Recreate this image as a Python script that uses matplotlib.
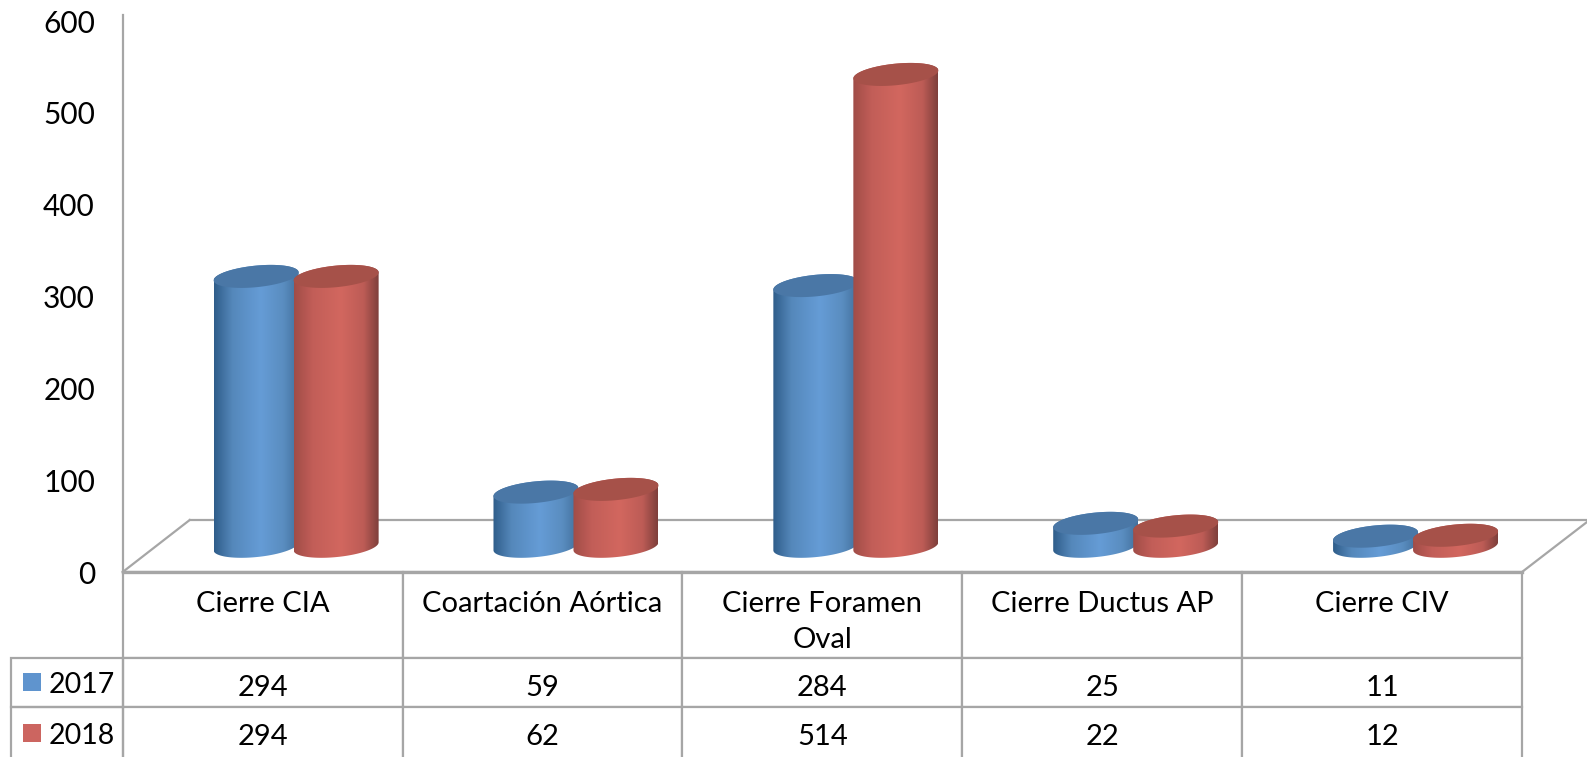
import numpy as np
import matplotlib
matplotlib.use("Agg")
import matplotlib.pyplot as plt
from matplotlib.colors import LinearSegmentedColormap
from matplotlib.patches import Polygon, Rectangle
from matplotlib.transforms import Affine2D

categorias = ["Cierre CIA", "Coartación Aórtica", "Cierre Foramen\nOval", "Cierre Ductus AP", "Cierre CIV"]
serie_2017 = [294, 59, 284, 25, 11]
serie_2018 = [294, 62, 514, 22, 12]
yticks = [0, 100, 200, 300, 400, 500, 600]

W, H = 1587, 757
GRIS = "#a6a6a6"
FS = 21
plt.rcParams["font.family"] = ["Lato", "DejaVu Sans"]

# estilo de cada serie: borde izq, medio izq, centro, medio der, borde der, tapa
BLUE = ("#2f5d8a", "#5588bb", "#659cd6", "#5a8dc0", "#42709c", "#4a77a6")
RED = ("#a04c47", "#c25e58", "#d2675f", "#bd5c56", "#7e3f3b", "#a65149")

fig = plt.figure(figsize=(W / 100, H / 100), dpi=100)
x0, x1, y_0, y_top = 122.7, 1522.0, 572.0, 15.0
ax = fig.add_axes([x0 / W, 1 - y_0 / H, (x1 - x0) / W, (y_0 - y_top) / H])
PX_X = (x1 - x0) / 5
PX_Y = 0.918


def ellipse(cx, cy, t):
    # elipse inclinada, sube hacia la derecha
    a = 42.5 / PX_X
    b = 10.8 / PX_Y
    k = 4.0 / PX_Y
    return cx + a * np.cos(t), cy + b * np.sin(t) + k * np.cos(t)


def cilindro(cx, valor, estilo, z):
    base = 28.0
    top = base + valor
    cmap = LinearSegmentedColormap.from_list(
        "c", [(0, estilo[0]), (0.22, estilo[1]), (0.55, estilo[2]), (0.82, estilo[3]), (1, estilo[4])])
    t_low = np.linspace(np.pi, 2 * np.pi, 60)
    t_up = np.linspace(0, np.pi, 60)
    xb, yb = ellipse(cx, base, t_low)
    xt, yt = ellipse(cx, top, t_up)
    pts = np.column_stack([np.r_[xb, xt], np.r_[yb, yt]])
    borde = Polygon(pts, closed=True, facecolor="none", edgecolor="none", zorder=z)
    ax.add_patch(borde)
    a = 42.5 / PX_X
    im = ax.imshow(np.linspace(0, 1, 256)[None, :], cmap=cmap, aspect="auto", zorder=z,
                   extent=(cx - a, cx + a, base - 20, top + 20), interpolation="bilinear")
    im.set_clip_path(borde)
    t = np.linspace(0, 2 * np.pi, 120)
    xc, yc = ellipse(cx, top, t)
    ax.add_patch(Polygon(np.column_stack([xc, yc]), closed=True, facecolor=estilo[5], edgecolor="none", zorder=z + 0.1))


for i in range(len(categorias)):
    cilindro(i - 6.5 / PX_X, serie_2017[i], BLUE, 3 + i)
    cilindro(i + 73.5 / PX_X, serie_2018[i], RED, 3.5 + i)

ax.set_xlim(-0.5, 4.5)
ax.set_ylim(0, (y_0 - y_top) / PX_Y)

# suelo 3D
dx = 67 / PX_X
dy = 52 / PX_Y
ax.plot([-0.5, -0.5 + dx], [0, dy], color=GRIS, lw=1.6, clip_on=False, zorder=1)
ax.plot([-0.5 + dx, 4.5 + 65 / PX_X], [dy, dy], color=GRIS, lw=1.6, clip_on=False, zorder=1)
ax.plot([4.5, 4.5 + 65 / PX_X], [0, 50 / PX_Y], color=GRIS, lw=1.6, clip_on=False, zorder=1)

for s in ["top", "right", "bottom"]:
    ax.spines[s].set_visible(False)
ax.spines["left"].set_color(GRIS)
ax.spines["left"].set_linewidth(1.6)
ax.set_xticks([])
ax.set_yticks(yticks)
ax.tick_params(axis="y", length=0, pad=20, labelsize=FS + 0.5)

# tabla de datos, la ultima fila va abierta por abajo
filas = [[c if "\n" in c else c + "\n " for c in categorias],
         [str(v) for v in serie_2017],
         [str(v) for v in serie_2018]]
altos = [86, 49, 50]
tabla = ax.table(cellText=filas, rowLabels=["", "", ""], cellLoc="center",
                 bbox=[0, (y_0 - H) / (y_0 - y_top), 1, (H - y_0) / (y_0 - y_top)])
tabla.auto_set_font_size(False)
tabla.set_fontsize(FS)
for (r, c), cell in tabla.get_celld().items():
    cell.set_edgecolor(GRIS)
    cell.set_linewidth(1.6)
    cell.set_height(altos[r])
    if c == -1:
        # las etiquetas de fila se dibujan aparte con su muestra de color
        cell.set_visible(False)
        continue
    cell.set_width(PX_X)
    txt = cell.get_text()
    if r == 0:
        txt.set_linespacing(1.45)
        txt.set_transform(Affine2D().translate(0, -7))
    else:
        txt.set_transform(Affine2D().translate(0, -5))
    if r == 2:
        cell.visible_edges = "LRT"

# linea frontal del suelo, mas gruesa
ax.plot([-0.5, 4.5], [0, 0], color=GRIS, lw=2.4, clip_on=False, zorder=12)

# leyenda dentro de la tabla
for nombre, color, ypx, top_px, alto in [("2017", "#5f94ce", 682, 658, 49), ("2018", "#cc6560", 733, 707, 60)]:
    fig.patches.append(Rectangle((11 / W, 1 - (top_px + alto) / H), (x0 - 11) / W, alto / H, transform=fig.transFigure,
                                 facecolor="none", edgecolor=GRIS, linewidth=1.6, figure=fig))
    fig.patches.append(Rectangle((23 / W, 1 - (ypx + 9) / H), 18 / W, 18 / H, transform=fig.transFigure,
                                 facecolor=color, edgecolor="none", figure=fig))
    fig.text(49 / W, 1 - (ypx + 3) / H, nombre, fontsize=FS - 0.5, ha="left", va="center")

fig.savefig("out.png", dpi=100)
